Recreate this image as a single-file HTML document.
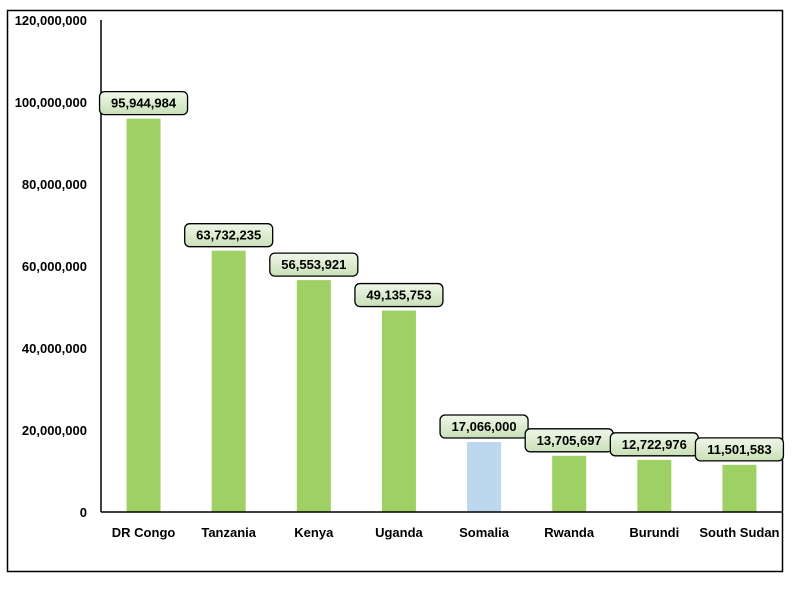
<!DOCTYPE html>
<html><head><meta charset="utf-8"><style>
body{margin:0;background:#fff;}
svg text{font-family:"Liberation Sans",sans-serif;font-weight:bold;font-size:13px;fill:#000;}
</style></head><body>
<svg width="800" height="584">
<defs><linearGradient id="g" x1="0" y1="0" x2="0" y2="1"><stop offset="0" stop-color="#f0f7ea"/><stop offset="1" stop-color="#c8e0b6"/></linearGradient></defs>
<rect x="7.5" y="10.5" width="775" height="561" fill="#fff" stroke="#000" stroke-width="1.5"/>
<g id="yaxis"></g><g id="bars"></g>
</svg>
<script>
const categories=["DR Congo","Tanzania","Kenya","Uganda","Somalia","Rwanda","Burundi","South Sudan"];
const values=[95944984,63732235,56553921,49135753,17066000,13705697,12722976,11501583];
const highlight=[false,false,false,false,true,false,false,false];
const yTicks=[0,20000000,40000000,60000000,80000000,100000000,120000000];
const NS="http://www.w3.org/2000/svg";
const x0=101,x1=782,yb=512,yt=20,ymax=120000000;
const y=v=>yb-(v/ymax)*(yb-yt);
const step=(x1-x0)/categories.length;
const xc=i=>x0+step*(i+0.5);
const svg=document.querySelector('svg');
function mk(t,a,p){const e=document.createElementNS(NS,t);for(const k in a)e.setAttribute(k,a[k]);(p||svg).appendChild(e);return e;}
const ya=document.getElementById('yaxis'),bg=document.getElementById('bars');
yTicks.forEach(v=>{const t=mk('text',{x:87,y:y(v)+5,'text-anchor':'end'},ya);t.textContent=v.toLocaleString('en-US');

});
const ax=mk('line',{x1:x0,y1:yt,x2:x0,y2:yb,stroke:'#000','stroke-width':1.5},ya);


categories.forEach((c,i)=>{
const v=values[i],cx=xc(i),top=y(v);
const r=mk('rect',{x:cx-17,y:top,width:34,height:yb-top,fill:highlight[i]?'#bdd7ee':'#9fd063'},bg);


const lbl=v.toLocaleString('en-US');
const w=lbl.length*7.6+12;
const b=mk('rect',{x:cx-w/2,y:top-27,width:w,height:23,rx:5,fill:'url(#g)',stroke:'#000','stroke-width':1.3},bg);


const t=mk('text',{x:cx,y:top-11,'text-anchor':'middle'},bg);t.textContent=lbl;


const ct=mk('text',{x:cx,y:537,'text-anchor':'middle'},bg);ct.textContent=c;


});
const bl=mk('line',{x1:x0,y1:yb,x2:x1,y2:yb,stroke:'#000','stroke-width':1.5});


</script>
</body></html>
